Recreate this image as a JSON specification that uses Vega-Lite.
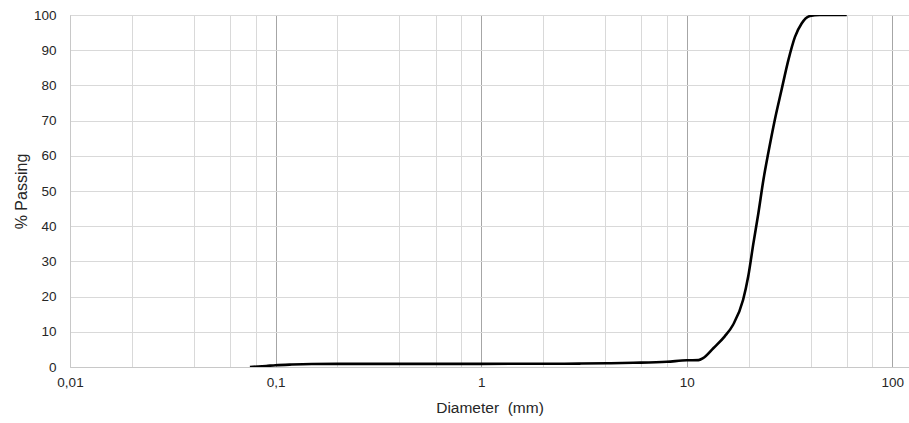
{
  "$schema": "https://vega.github.io/schema/vega-lite/v6.json",
  "width": 839,
  "height": 352,
  "autosize": "none",
  "padding": {"left": 70, "top": 15, "right": 0, "bottom": 56},
  "background": "white",
  "config": {
    "view": {"stroke": null},
    "font": "Liberation Sans",
    "axis": {"labelFont": "Liberation Sans", "titleFont": "Liberation Sans", "labelFontSize": 13.5, "titleFontWeight": "normal", "labelColor": "#262626", "titleColor": "#262626", "ticks": false}
  },
  "data": {
    "values": [
      {"d": 0.075, "p": 0},
      {"d": 0.09, "p": 0.3},
      {"d": 0.1, "p": 0.5},
      {"d": 0.12, "p": 0.7},
      {"d": 0.15, "p": 0.85},
      {"d": 0.2, "p": 0.9},
      {"d": 0.3, "p": 0.9},
      {"d": 0.6, "p": 0.9},
      {"d": 1, "p": 0.9},
      {"d": 2, "p": 0.92},
      {"d": 3, "p": 0.97},
      {"d": 4.1, "p": 1.05},
      {"d": 5.5, "p": 1.2},
      {"d": 8, "p": 1.5},
      {"d": 10, "p": 1.9},
      {"d": 11.4, "p": 1.95},
      {"d": 12.0, "p": 2.5},
      {"d": 13.5, "p": 5.4},
      {"d": 15.3, "p": 8.7},
      {"d": 16.8, "p": 12},
      {"d": 18.8, "p": 19.1},
      {"d": 19.9, "p": 25.7},
      {"d": 21.1, "p": 35.2},
      {"d": 22.3, "p": 43.7},
      {"d": 23.6, "p": 53.2},
      {"d": 24.9, "p": 60.7},
      {"d": 26.8, "p": 70.2},
      {"d": 28.9, "p": 78.7},
      {"d": 31.2, "p": 87.2},
      {"d": 33.6, "p": 93.8},
      {"d": 36.2, "p": 97.6},
      {"d": 39.7, "p": 99.7},
      {"d": 44.4, "p": 100},
      {"d": 60, "p": 100}
    ]
  },
  "mark": {"type": "line", "interpolate": "monotone", "color": "#000000", "strokeWidth": 2.6, "clip": true},
  "encoding": {
    "x": {
      "field": "d", "type": "quantitative",
      "scale": {"type": "log", "domain": [0.01, 120.5], "nice": false},
      "axis": {
        "title": "Diameter\u00a0\u00a0(mm)",
        "titleFontSize": 15.5,
        "titlePadding": 12,
        "labelPadding": 8,
        "values": [0.01, 0.02, 0.04, 0.06, 0.08, 0.1, 0.2, 0.4, 0.6, 0.8, 1, 2, 4, 6, 8, 10, 20, 40, 60, 80, 100],
        "labelExpr": "datum.value == 0.01 ? '0,01' : datum.value == 0.1 ? '0,1' : datum.value == 1 ? '1' : datum.value == 10 ? '10' : datum.value == 100 ? '100' : ''",
        "grid": true,
        "gridColor": {"condition": {"test": "datum.value == 0.01 || datum.value == 0.1 || datum.value == 1 || datum.value == 10 || datum.value == 100", "value": "#a6a6a6"}, "value": "#d9d9d9"},
        "gridWidth": 1,
        "domainColor": "#c8c8c8",
        "domainWidth": 1,
        "labelFlush": false,
        "labelOverlap": false
      }
    },
    "y": {
      "field": "p", "type": "quantitative",
      "scale": {"domain": [0, 100], "nice": false},
      "axis": {
        "title": "% Passing",
        "titleFontSize": 16,
        "titlePadding": 4,
        "labelPadding": 14,
        "values": [0, 10, 20, 30, 40, 50, 60, 70, 80, 90, 100],
        "grid": true,
        "gridColor": "#d9d9d9",
        "domainColor": "#c8c8c8",
        "labelFlush": false
      }
    }
  }
}
